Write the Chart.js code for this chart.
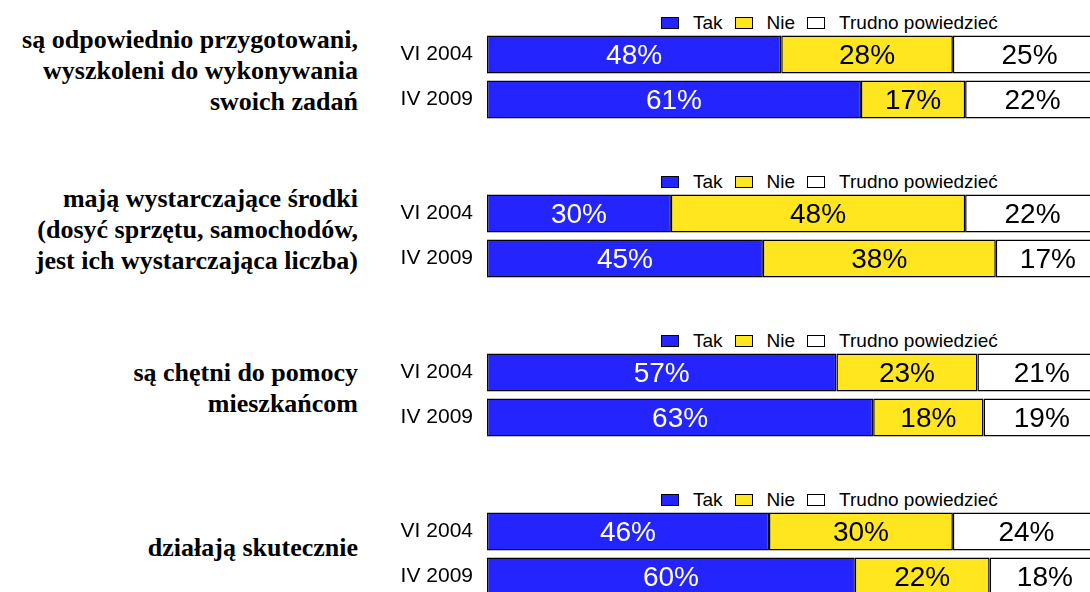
<!DOCTYPE html>
<html>
<head>
<meta charset="utf-8">
<script src="https://cdn.jsdelivr.net/npm/chart.js@4/dist/chart.umd.min.js"></script>
<style>
  html, body { margin: 0; padding: 0; background: #fff; overflow: hidden; }
  #page { position: relative; width: 1090px; height: 592px; overflow: hidden; }
  .group { position: absolute; left: 0; width: 1110px; height: 160px; }
  .question {
    position: absolute; left: 0; top: 0; width: 358px; height: 140px;
    display: flex; align-items: center; justify-content: flex-end;
    text-align: right; font-family: "Liberation Serif", "Times New Roman", serif;
    font-weight: bold; font-size: 26px; line-height: 31px; color: #000;
  }
  .legend {
    position: absolute; left: 661px; top: 13px; height: 19px;
    display: flex; align-items: center;
    font-family: "Liberation Sans", Arial, sans-serif; font-size: 19px; line-height: 19px; color: #000;
    white-space: nowrap;
  }
  .legend .box { width: 16px; height: 10px; border: 1.5px solid #000; margin-right: 14px; }
  .legend .txt { margin-right: 12px; }
  .chartBox { position: absolute; left: 370px; top: 32px; width: 730px; height: 90px; }
</style>
</head>
<body>
<div id="page"></div>
<script>
// Data
const questionLabels = [
    ['są odpowiednio przygotowani,', 'wyszkoleni do wykonywania', 'swoich zadań'],
    ['mają wystarczające środki', '(dosyć sprzętu, samochodów,', 'jest ich wystarczająca liczba)'],
    ['są chętni do pomocy', 'mieszkańcom'],
    ['działają skutecznie']
];
const periodLabels = ['VI 2004', 'IV 2009'];
const seriesNames = ['Tak', 'Nie', 'Trudno powiedzieć'];
const seriesColors = ['#2424ff', '#ffe61e', '#ffffff'];
const labelColors = ['#ffffff', '#000000', '#000000'];

const takData = [[48, 61], [30, 45], [57, 63], [46, 60]];
const nieData = [[28, 17], [48, 38], [23, 18], [30, 22]];
const trudnoData = [[25, 22], [22, 17], [21, 19], [24, 18]];

// percent labels inside the bar segments
const segmentLabels = {
    id: 'segmentLabels',
    afterDatasetsDraw(chart) {
        let ctx = chart.ctx;
        ctx.save();
        ctx.font = '28px "Liberation Sans", Arial, sans-serif';
        ctx.textAlign = 'center';
        ctx.textBaseline = 'middle';
        chart.data.datasets.forEach(function(ds, i) {
            let meta = chart.getDatasetMeta(i);
            ctx.fillStyle = labelColors[i];
            meta.data.forEach(function(el, j) {
                let cx = (el.x + el.base) / 2;
                ctx.fillText(ds.data[j] + '%', cx, el.y + 2);
            });
        });
        ctx.restore();
    }
};

function buildLegend(){
    let legend = document.createElement('div');
    legend.className = 'legend';
    for(let i=0; i<seriesNames.length; i++){
        let box = document.createElement('span');
        box.className = 'box';
        box.style.background = seriesColors[i];
        let txt = document.createElement('span');
        txt.className = 'txt';
        txt.textContent = seriesNames[i];
        legend.appendChild(box);
        legend.appendChild(txt);
    }
    return legend;
}

function buildGroup(index){
    let page = document.getElementById('page');
    let group = document.createElement('div');
    group.className = 'group';
    group.style.top = (index * 159) + 'px';

    let question = document.createElement('div');
    question.className = 'question';
    question.innerHTML = '<div>' + questionLabels[index].join('<br>') + '</div>';
    group.appendChild(question);
    group.appendChild(buildLegend());

    let box = document.createElement('div');
    box.className = 'chartBox';
    let canvas = document.createElement('canvas');
    box.appendChild(canvas);
    group.appendChild(box);
    page.appendChild(group);

    let seriesData = [takData[index], nieData[index], trudnoData[index]];
    let datasets = [];
    for(let i=0; i<seriesNames.length; i++){
        datasets.push({
            label: seriesNames[i],
            data: seriesData[i],
            backgroundColor: seriesColors[i],
            borderColor: '#000000',
            borderWidth: 1.5,
            borderSkipped: false,
            barPercentage: 0.845,
            categoryPercentage: 1.0
        });
    }

    new Chart(canvas, {
        type: 'bar',
        data: { labels: periodLabels, datasets: datasets },
        options: {
            indexAxis: 'y',
            responsive: true,
            maintainAspectRatio: false,
            animation: false,
            layout: { padding: 0 },
            plugins: {
                legend: { display: false },
                tooltip: { enabled: false }
            },
            scales: {
                x: { stacked: true, display: false, min: 0, max: 100 },
                y: {
                    stacked: true,
                    grid: { display: false, drawTicks: false },
                    border: { display: false },
                    ticks: {
                        color: '#000',
                        padding: 14,
                        font: { family: '"Liberation Sans", Arial, sans-serif', size: 21 }
                    },
                    afterFit: function(scale){
                        scale.width = 117;
                        // bars fill the whole height, no room kept for labels
                        scale.paddingTop = 0;
                        scale.paddingBottom = 0;
                    }
                }
            }
        },
        plugins: [segmentLabels]
    });
}

for(let g=0; g<questionLabels.length; g++){
    buildGroup(g);
}
</script>
</body>
</html>
